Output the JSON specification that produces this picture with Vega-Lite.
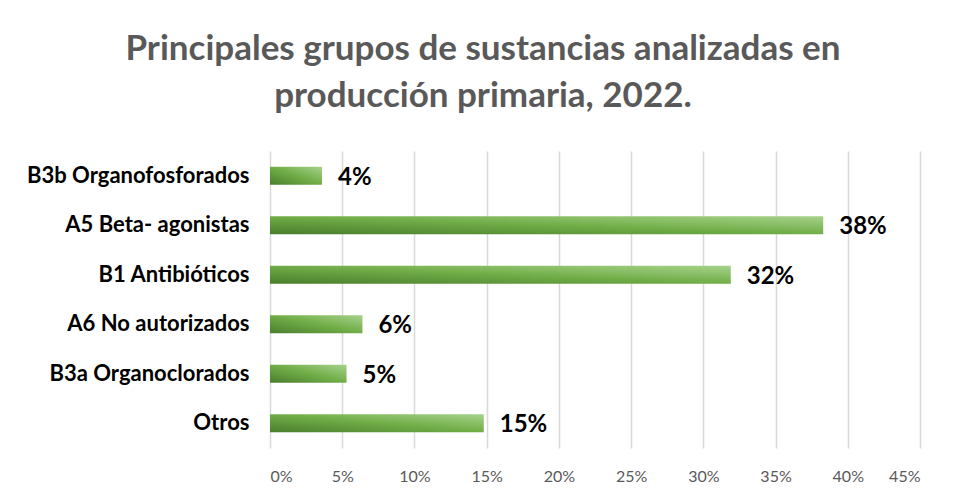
{
  "$schema": "https://vega.github.io/schema/vega-lite/v6.json",
  "autosize": "none",
  "width": 650,
  "height": 297,
  "padding": {"left": 270, "top": 151, "right": 47, "bottom": 54},
  "background": "white",
  "title": {
    "text": ["Principales grupos de sustancias analizadas en", "producción primaria, 2022."],
    "font": "Lato",
    "fontSize": 35,
    "fontWeight": "bold",
    "color": "#595959",
    "lineHeight": 47,
    "anchor": "middle",
    "dx": -112,
    "offset": 37
  },
  "data": {
    "values": [
      {"grupo": "B3b Organofosforados", "valor": 0.036},
      {"grupo": "A5 Beta- agonistas", "valor": 0.383},
      {"grupo": "B1 Antibióticos", "valor": 0.319},
      {"grupo": "A6 No autorizados", "valor": 0.064},
      {"grupo": "B3a Organoclorados", "valor": 0.053},
      {"grupo": "Otros", "valor": 0.148}
    ]
  },
  "encoding": {
    "y": {
      "field": "grupo",
      "type": "nominal",
      "sort": null,
      "title": null,
      "axis": {
        "domain": false,
        "ticks": false,
        "labelFont": "Lato",
        "labelFontSize": 22,
        "labelFontWeight": "bold",
        "labelColor": "#000000",
        "labelPadding": 21,
        "labelLimit": 300
      }
    },
    "x": {
      "field": "valor",
      "type": "quantitative",
      "title": null,
      "scale": {"domain": [0, 0.45], "nice": false},
      "axis": {
        "format": ".0%",
        "values": [0, 0.05, 0.1, 0.15, 0.2, 0.25, 0.3, 0.35, 0.4, 0.45],
        "domain": false,
        "ticks": false,
        "grid": true,
        "gridColor": "#d9d9d9",
        "gridWidth": 1.5,
        "labelFont": "Lato",
        "labelFontSize": 16,
        "labelColor": "#595959",
        "labelPadding": 20
      }
    }
  },
  "layer": [
    {
      "mark": {
        "type": "bar",
        "size": 18,
        "color": {
          "gradient": "linear",
          "x1": 0, "y1": 1, "x2": 1, "y2": 0,
          "stops": [
            {"offset": 0, "color": "#4a7d2d"},
            {"offset": 0.5, "color": "#70ad47"},
            {"offset": 1, "color": "#a6d28a"}
          ]
        }
      }
    },
    {
      "mark": {
        "type": "text",
        "align": "left",
        "baseline": "middle",
        "dx": 16,
        "dy": 2,
        "font": "Lato",
        "fontSize": 24,
        "fontWeight": "bold",
        "color": "#000000"
      },
      "encoding": {
        "text": {"field": "valor", "type": "quantitative", "format": ".0%"}
      }
    }
  ],
  "config": {
    "view": {"stroke": null}
  }
}
